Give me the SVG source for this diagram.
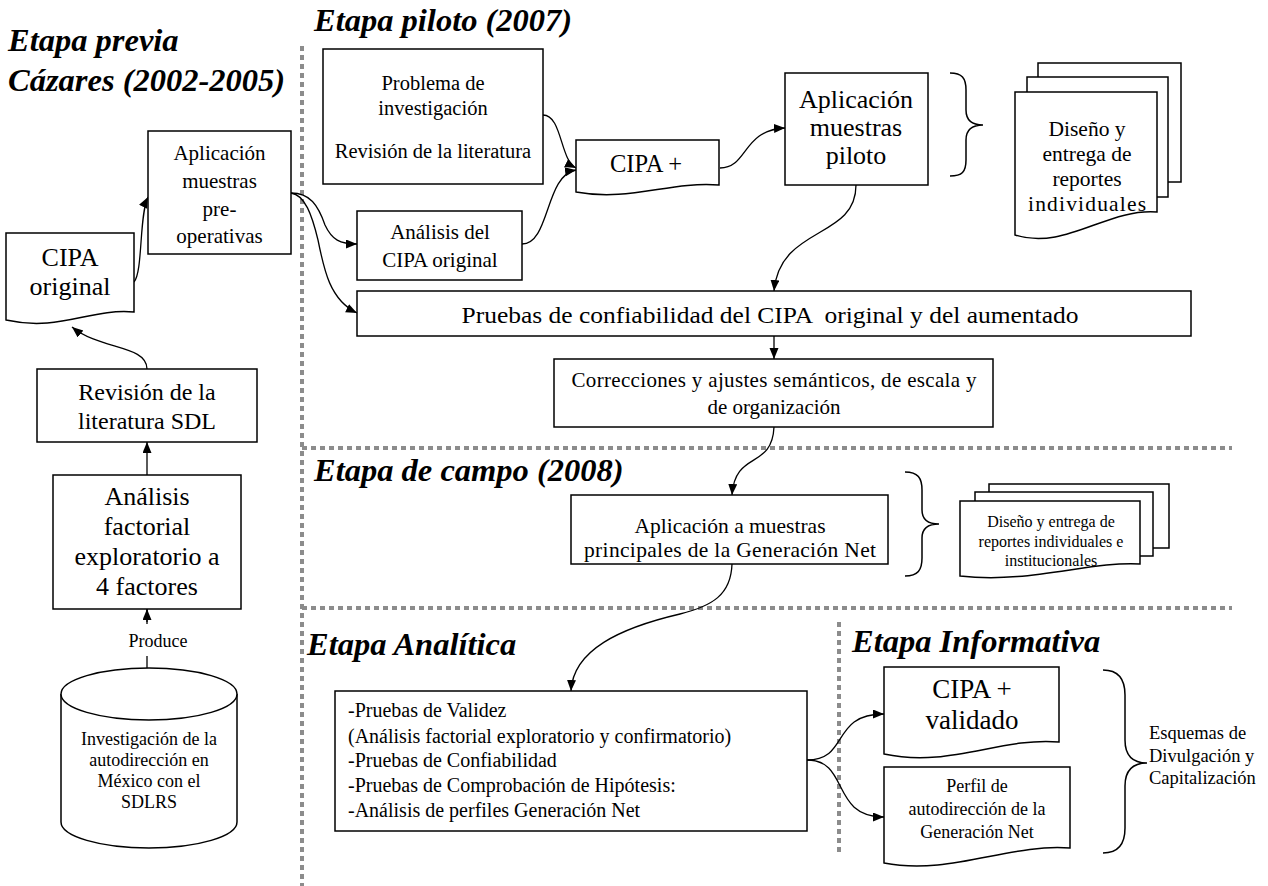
<svg xmlns="http://www.w3.org/2000/svg" width="1268" height="886" viewBox="0 0 1268 886">
  <defs>
    <marker id="ah" markerUnits="userSpaceOnUse" markerWidth="12" markerHeight="10" refX="11" refY="4.5" orient="auto">
      <path d="M0,0 L11,4.5 L0,9 Z" fill="#000"/>
    </marker>
    <style>
      .box { fill: #fff; stroke: #000; stroke-width: 1.5; }
      .conn { fill: none; stroke: #000; stroke-width: 1.3; marker-end: url(#ah); }
      .plain { fill: none; stroke: #000; stroke-width: 1.3; }
      .sep { fill: none; stroke: #8c8c8c; stroke-width: 4; stroke-dasharray: 5 4; }
      .brace { fill: none; stroke: #000; stroke-width: 1.5; }
      .t { font-family: "Liberation Serif", "Times New Roman", serif; fill: #000; }
      .c { text-anchor: middle; }
      .h { font-family: "Liberation Serif", "Times New Roman", serif; font-weight: bold; font-style: italic; font-size: 32.5px; fill: #000; }
    </style>
  </defs>

  <rect width="1268" height="886" fill="#fff"/>

  <!-- stage separators -->
  <g id="separators">
    <line class="sep" x1="302" y1="46" x2="302" y2="886"/>
    <line class="sep" x1="302" y1="448" x2="1232" y2="448"/>
    <line class="sep" x1="302" y1="608" x2="1232" y2="608"/>
    <line class="sep" x1="839" y1="622" x2="839" y2="855"/>
  </g>

  <!-- stage titles -->
  <g id="titles">
    <text class="h" x="8" y="51">Etapa previa</text>
    <text class="h" x="8" y="91">Cázares (2002-2005)</text>
    <text class="h" x="314" y="31">Etapa piloto (2007)</text>
    <text class="h" x="314" y="481">Etapa de campo (2008)</text>
    <text class="h" x="307" y="655">Etapa Analítica</text>
    <text class="h" x="852" y="652">Etapa Informativa</text>
  </g>

  <!-- connectors -->
  <g id="connectors">
    <path class="plain" d="M147,668 V609"/>
    <path class="conn" d="M147,622 V609"/>
    <path class="conn" d="M147,475 V442"/>
    <path class="conn" d="M147,369 C147,345 100,350 72,327"/>
    <path class="conn" d="M134,282 C143,272 139,215 148,197"/>
    <path class="conn" d="M291,193 C310,193 318,205 325,225 C332,240 340,244 357,244"/>
    <path class="conn" d="M291,193 C305,195 312,215 318,240 C324,270 330,300 357,313"/>
    <path class="conn" d="M543,115 C562,115 560,160 576,168"/>
    <path class="conn" d="M522,244 C550,244 545,175 576,170"/>
    <path class="conn" d="M720,168 C748,168 742,130 785,128"/>
    <path class="conn" d="M856,185 C856,240 780,225 774,291"/>
    <path class="conn" d="M774,336 V359"/>
    <path class="conn" d="M774,427 C772,470 735,450 732,495"/>
    <path class="conn" d="M732,564 C731,595 712,606 680,614 C620,628 573,650 571,691"/>
    <path class="conn" d="M807,760 C850,760 830,714 884,714"/>
    <path class="conn" d="M807,760 C850,760 830,817 884,817"/>
  </g>

  <!-- Produce label -->
  <g id="label-produce">
    <rect x="124" y="624" width="68" height="32" fill="#fff"/>
    <text class="t c" x="158" y="647" font-size="18">Produce</text>
  </g>

  <!-- previous stage -->
  <g id="n-investigacion">
    <path class="box" d="M61,694 V822 A88,26 0 0 0 237,822 V694 A88,26 0 0 0 61,694 Z"/>
    <path class="box" d="M61,694 A88,26 0 0 0 237,694"/>
    <text class="t c" font-size="18" x="149" y="745">Investigación de la</text>
    <text class="t c" font-size="18" x="149" y="766">autodirección en</text>
    <text class="t c" font-size="18" x="149" y="787">México con el</text>
    <text class="t c" font-size="18" x="149" y="808">SDLRS</text>
  </g>

  <g id="n-factorial">
    <rect class="box" x="53" y="475" width="188" height="134"/>
    <text class="t c" font-size="26" x="147" y="505">Análisis</text>
    <text class="t c" font-size="26" x="147" y="535">factorial</text>
    <text class="t c" font-size="26" x="147" y="565">exploratorio a</text>
    <text class="t c" font-size="26" x="147" y="595">4 factores</text>
  </g>

  <g id="n-revision-sdl">
    <rect class="box" x="37" y="369" width="220" height="73"/>
    <text class="t c" font-size="24" x="147" y="400">Revisión de la</text>
    <text class="t c" font-size="24" x="147" y="429">literatura SDL</text>
  </g>

  <g id="n-cipa-original">
    <path class="box" d="M6,233 H134 V312 C90,308 60,332 6,320 Z"/>
    <text class="t c" font-size="26" x="70" y="266">CIPA</text>
    <text class="t c" font-size="26" x="70" y="295">original</text>
  </g>

  <g id="n-preoperativas">
    <rect class="box" x="148" y="131" width="143" height="123"/>
    <text class="t c" font-size="21" x="219.5" y="160">Aplicación</text>
    <text class="t c" font-size="21" x="219.5" y="188">muestras</text>
    <text class="t c" font-size="21" x="219.5" y="216">pre-</text>
    <text class="t c" font-size="21" x="219.5" y="243">operativas</text>
  </g>

  <!-- pilot stage -->
  <g id="n-problema">
    <rect class="box" x="323" y="49" width="220" height="135"/>
    <text class="t c" font-size="20.5" x="433" y="90">Problema de</text>
    <text class="t c" font-size="20.5" x="433" y="115">investigación</text>
    <text class="t c" font-size="20.5" x="433" y="158">Revisión de la literatura</text>
  </g>

  <g id="n-analisis-cipa">
    <rect class="box" x="357" y="211" width="165" height="69"/>
    <text class="t c" font-size="21" x="440" y="239">Análisis del</text>
    <text class="t c" font-size="21" x="440" y="267">CIPA original</text>
  </g>

  <g id="n-cipa-plus">
    <path class="box" d="M576,140 H719 V185 C670,181 630,202 576,192 Z"/>
    <text class="t c" font-size="24.5" x="646" y="172">CIPA +</text>
  </g>

  <g id="n-piloto">
    <rect class="box" x="785" y="73" width="143" height="112"/>
    <text class="t c" font-size="26" x="856" y="108">Aplicación</text>
    <text class="t c" font-size="26" x="856" y="136">muestras</text>
    <text class="t c" font-size="26" x="856" y="164">piloto</text>
  </g>

  <g id="brace-piloto">
    <path class="brace" d="M950,73 C962,73 966,78 966,90 V110 C966,120 972,125 983,125 C972,125 966,130 966,140 V160 C966,172 962,176 950,176"/>
  </g>

  <g id="n-reportes-individuales">
    <rect class="box" x="1038" y="63" width="143" height="119"/>
    <rect class="box" x="1027" y="77" width="141" height="120"/>
    <path class="box" d="M1015,92 H1157 V212 C1107,208 1065,251 1015,235 Z"/>
    <text class="t c" font-size="21.5" x="1087" y="136">Diseño y</text>
    <text class="t c" font-size="21.5" x="1087" y="161">entrega de</text>
    <text class="t c" font-size="21.5" x="1087" y="186">reportes</text>
    <text class="t c" font-size="21.5" x="1087" y="211" textLength="118" lengthAdjust="spacing">individuales</text>
  </g>

  <g id="n-confiabilidad">
    <rect class="box" x="357" y="291" width="834" height="45"/>
    <text class="t c" font-size="24" x="770" y="323" textLength="617" lengthAdjust="spacingAndGlyphs" xml:space="preserve">Pruebas de confiabilidad del CIPA  original y del aumentado</text>
  </g>

  <g id="n-correcciones">
    <rect class="box" x="554" y="359" width="439" height="68"/>
    <text class="t c" font-size="21" x="774" y="387" textLength="405" lengthAdjust="spacing">Correcciones y ajustes semánticos, de escala y</text>
    <text class="t c" font-size="21" x="774" y="414">de organización</text>
  </g>

  <!-- field stage -->
  <g id="n-principales">
    <rect class="box" x="571" y="495" width="317" height="69"/>
    <text class="t c" font-size="21.5" x="730" y="533">Aplicación a muestras</text>
    <text class="t c" font-size="21.5" x="730" y="557" textLength="292" lengthAdjust="spacing">principales de la Generación Net</text>
  </g>

  <g id="brace-campo">
    <path class="brace" d="M905,472 C918,472 922,478 922,490 V510 C922,519 928,524 939,524 C928,524 922,529 922,538 V558 C922,570 918,576 905,576"/>
  </g>

  <g id="n-reportes-institucionales">
    <rect class="box" x="989" y="484" width="180" height="64"/>
    <rect class="box" x="975" y="492" width="178" height="64"/>
    <path class="box" d="M960,501 H1140 V564 C1090,561 1030,584 960,576 Z"/>
    <text class="t c" font-size="16" x="1051" y="527">Diseño y entrega de</text>
    <text class="t c" font-size="16" x="1051" y="547">reportes individuales e</text>
    <text class="t c" font-size="16" x="1051" y="566">institucionales</text>
  </g>

  <!-- analytic stage -->
  <g id="n-analitica">
    <rect class="box" x="335" y="691" width="472" height="140"/>
    <text class="t" font-size="20" x="348" y="717">-Pruebas de Validez</text>
    <text class="t" font-size="20" x="348" y="743">(Análisis factorial exploratorio y confirmatorio)</text>
    <text class="t" font-size="20" x="348" y="767">-Pruebas de Confiabilidad</text>
    <text class="t" font-size="20" x="348" y="792">-Pruebas de Comprobación de Hipótesis:</text>
    <text class="t" font-size="20" x="348" y="817">-Análisis de perfiles Generación Net</text>
  </g>

  <!-- informative stage -->
  <g id="n-cipa-validado">
    <path class="box" d="M884,667 H1059 V742 C1000,737 950,768 884,754 Z"/>
    <text class="t c" font-size="27" x="972" y="698">CIPA +</text>
    <text class="t c" font-size="27" x="972" y="729">validado</text>
  </g>

  <g id="n-perfil">
    <path class="box" d="M884,767 H1070 V848 C1010,843 950,876 884,863 Z"/>
    <text class="t c" font-size="18" x="977" y="792">Perfil de</text>
    <text class="t c" font-size="18" x="977" y="815">autodirección de la</text>
    <text class="t c" font-size="18" x="977" y="838">Generación Net</text>
  </g>

  <g id="brace-informativa">
    <path class="brace" d="M1103,670 C1118,670 1125,678 1125,695 V740 C1125,755 1132,763 1147,763 C1132,763 1125,771 1125,786 V828 C1125,845 1118,853 1103,853"/>
  </g>

  <g id="n-esquemas">
    <text class="t" font-size="18.5" x="1149" y="739">Esquemas de</text>
    <text class="t" font-size="18.5" x="1149" y="762">Divulgación y</text>
    <text class="t" font-size="18.5" x="1149" y="784">Capitalización</text>
  </g>
</svg>
